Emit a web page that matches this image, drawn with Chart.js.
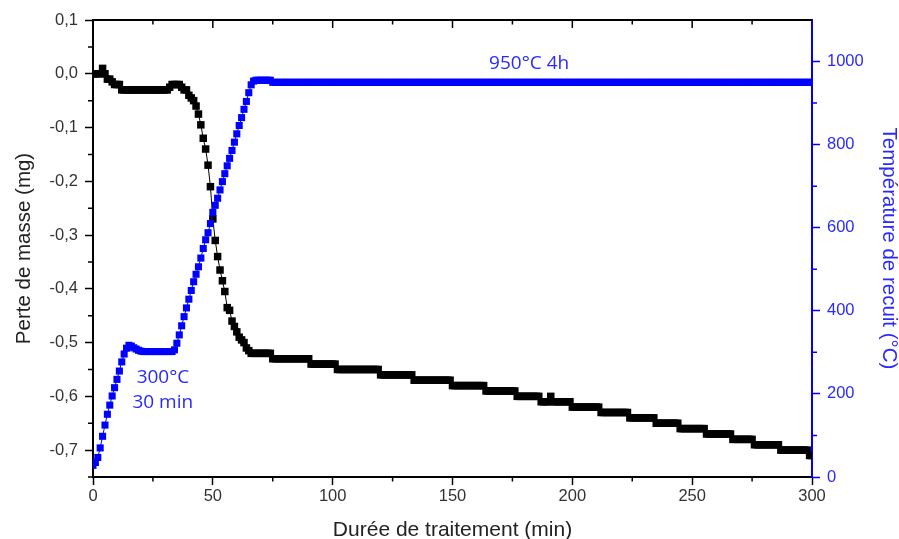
<!DOCTYPE html>
<html lang="fr">
<head>
    <meta charset="UTF-8">
    <title>Perte de masse et température de recuit</title>
    <style>
        html, body {
            margin: 0;
            padding: 0;
            background: #fff;
        }
        canvas {
            display: block;
        }
    </style>
</head>
<body>
    <canvas id="recuitChart" width="899" height="539"></canvas>
    <script src="https://cdn.jsdelivr.net/npm/chart.js@4"></script>
    <script>
        // one reading per minute, index = minute (0 .. 300)
        const massLoss = [
            0, 0, 0, 0, 0.01, 0, -0.01, -0.01, -0.015, -0.02, -0.02, -0.02, -0.03, -0.03, -0.03, -0.03, -0.03, -0.03, -0.03, -0.03,
            -0.03, -0.03, -0.03, -0.03, -0.03, -0.03, -0.03, -0.03, -0.03, -0.03, -0.03, -0.03, -0.025, -0.02, -0.02, -0.02, -0.02, -0.025, -0.03, -0.03,
            -0.04, -0.045, -0.05, -0.06, -0.075, -0.095, -0.12, -0.14, -0.17, -0.21, -0.27, -0.31, -0.34, -0.365, -0.385, -0.405, -0.435, -0.44, -0.46, -0.47,
            -0.48, -0.49, -0.495, -0.50, -0.51, -0.515, -0.52, -0.52, -0.52, -0.52, -0.52, -0.52, -0.52, -0.52, -0.52, -0.53, -0.53, -0.53, -0.53, -0.53,
            -0.53, -0.53, -0.53, -0.53, -0.53, -0.53, -0.53, -0.53, -0.53, -0.53, -0.53, -0.54, -0.54, -0.54, -0.54, -0.54, -0.54, -0.54, -0.54, -0.54,
            -0.54, -0.54, -0.55, -0.55, -0.55, -0.55, -0.55, -0.55, -0.55, -0.55, -0.55, -0.55, -0.55, -0.55, -0.55, -0.55, -0.55, -0.55, -0.55, -0.55,
            -0.56, -0.56, -0.56, -0.56, -0.56, -0.56, -0.56, -0.56, -0.56, -0.56, -0.56, -0.56, -0.56, -0.56, -0.57, -0.57, -0.57, -0.57, -0.57, -0.57,
            -0.57, -0.57, -0.57, -0.57, -0.57, -0.57, -0.57, -0.57, -0.57, -0.57, -0.58, -0.58, -0.58, -0.58, -0.58, -0.58, -0.58, -0.58, -0.58, -0.58,
            -0.58, -0.58, -0.58, -0.58, -0.59, -0.59, -0.59, -0.59, -0.59, -0.59, -0.59, -0.59, -0.59, -0.59, -0.59, -0.59, -0.59, -0.60, -0.60, -0.60,
            -0.60, -0.60, -0.60, -0.60, -0.60, -0.60, -0.60, -0.61, -0.61, -0.61, -0.61, -0.60, -0.61, -0.61, -0.61, -0.61, -0.61, -0.61, -0.61, -0.61,
            -0.62, -0.62, -0.62, -0.62, -0.62, -0.62, -0.62, -0.62, -0.62, -0.62, -0.62, -0.62, -0.63, -0.63, -0.63, -0.63, -0.63, -0.63, -0.63, -0.63,
            -0.63, -0.63, -0.63, -0.63, -0.64, -0.64, -0.64, -0.64, -0.64, -0.64, -0.64, -0.64, -0.64, -0.64, -0.64, -0.65, -0.65, -0.65, -0.65, -0.65,
            -0.65, -0.65, -0.65, -0.65, -0.65, -0.66, -0.66, -0.66, -0.66, -0.66, -0.66, -0.66, -0.66, -0.66, -0.66, -0.66, -0.67, -0.67, -0.67, -0.67,
            -0.67, -0.67, -0.67, -0.67, -0.67, -0.67, -0.67, -0.68, -0.68, -0.68, -0.68, -0.68, -0.68, -0.68, -0.68, -0.68, -0.69, -0.69, -0.69, -0.69,
            -0.69, -0.69, -0.69, -0.69, -0.69, -0.69, -0.69, -0.70, -0.70, -0.70, -0.70, -0.70, -0.70, -0.70, -0.70, -0.70, -0.70, -0.70, -0.70, -0.71,
            -0.71
        ];

        const temperature = [
            28, 35, 47, 70, 98, 125, 151, 173, 195, 215, 235, 255, 277, 296, 310, 317, 315, 311, 308, 305,
            303, 302, 302, 302, 302, 302, 302, 302, 302, 302, 302, 302, 302, 302, 306, 322, 342, 364, 386, 407,
            428, 449, 470, 488, 506, 527, 550, 571, 588, 610, 637, 654, 671, 691, 711, 730, 749, 767, 786, 806,
            826, 846, 865, 885, 904, 925, 944, 953, 955, 955, 955, 955, 955, 955, 955, 950, 950, 950, 950, 950,
            950, 950, 950, 950, 950, 950, 950, 950, 950, 950, 950, 950, 950, 950, 950, 950, 950, 950, 950, 950,
            950, 950, 950, 950, 950, 950, 950, 950, 950, 950, 950, 950, 950, 950, 950, 950, 950, 950, 950, 950,
            950, 950, 950, 950, 950, 950, 950, 950, 950, 950, 950, 950, 950, 950, 950, 950, 950, 950, 950, 950,
            950, 950, 950, 950, 950, 950, 950, 950, 950, 950, 950, 950, 950, 950, 950, 950, 950, 950, 950, 950,
            950, 950, 950, 950, 950, 950, 950, 950, 950, 950, 950, 950, 950, 950, 950, 950, 950, 950, 950, 950,
            950, 950, 950, 950, 950, 950, 950, 950, 950, 950, 950, 950, 950, 950, 950, 950, 950, 950, 950, 950,
            950, 950, 950, 950, 950, 950, 950, 950, 950, 950, 950, 950, 950, 950, 950, 950, 950, 950, 950, 950,
            950, 950, 950, 950, 950, 950, 950, 950, 950, 950, 950, 950, 950, 950, 950, 950, 950, 950, 950, 950,
            950, 950, 950, 950, 950, 950, 950, 950, 950, 950, 950, 950, 950, 950, 950, 950, 950, 950, 950, 950,
            950, 950, 950, 950, 950, 950, 950, 950, 950, 950, 950, 950, 950, 950, 950, 950, 950, 950, 950, 950,
            950, 950, 950, 950, 950, 950, 950, 950, 950, 950, 950, 950, 950, 950, 950, 950, 950, 950, 950, 950,
            950
        ];

        // minor tick values (majors come from Chart.js)
        const minorMinutes = [25, 75, 125, 175, 225, 275];
        const majorMinutes = [50, 100, 150, 200, 250];
        const minorMass = [-0.75, -0.65, -0.55, -0.45, -0.35, -0.25, -0.15, -0.05, 0.05];
        const minorTemps = [100, 300, 500, 700, 900];

        const notes = [
            { text: '950°C 4h', minute: 182, temp: 996 },
            { text: '300°C', minute: 29.2, temp: 239 },
            { text: '30 min', minute: 29.1, temp: 179 }
        ];

        const BLUE = '#0000ff';
        const BLUE_TEXT = '#2a2aff';
        const TICK_FONT = { family: "'Liberation Sans', Arial, sans-serif", size: 16.5 };
        const TITLE_FAMILY = "'Liberation Sans', Arial, sans-serif";

        // top frame, minor ticks and the two annotations
        const frameAndNotes = {
            id: 'frameAndNotes',
            afterDraw(chart) {
                const { ctx, chartArea: a, scales } = chart;
                const x = scales.x, y = scales.y, y2 = scales.y2;
                ctx.save();
                ctx.strokeStyle = '#000';
                ctx.lineWidth = 1.5;
                ctx.beginPath();
                minorMass.forEach(v => {
                    const py = y.getPixelForValue(v);
                    ctx.moveTo(a.left - 5, py);
                    ctx.lineTo(a.left, py);
                });
                minorMinutes.forEach(m => {
                    const px = x.getPixelForValue(m);
                    ctx.moveTo(px, a.bottom);
                    ctx.lineTo(px, a.bottom + 4.5);
                    ctx.moveTo(px, a.top);
                    ctx.lineTo(px, a.top + 4.5);
                });
                majorMinutes.forEach(m => {
                    const px = x.getPixelForValue(m);
                    ctx.moveTo(px, a.top);
                    ctx.lineTo(px, a.top + 8);
                });
                ctx.stroke();

                ctx.lineWidth = 2;
                ctx.beginPath();
                ctx.moveTo(a.left - 1, a.top);
                ctx.lineTo(a.right, a.top);
                ctx.stroke();

                ctx.strokeStyle = BLUE;
                ctx.lineWidth = 1.5;
                ctx.beginPath();
                minorTemps.forEach(t => {
                    const py = y2.getPixelForValue(t);
                    ctx.moveTo(a.right, py);
                    ctx.lineTo(a.right + 5, py);
                });
                ctx.stroke();

                ctx.fillStyle = BLUE_TEXT;
                ctx.font = "19px 'Open Sans', sans-serif";
                ctx.textAlign = 'center';
                ctx.textBaseline = 'middle';
                notes.forEach(n => {
                    ctx.fillText(n.text, x.getPixelForValue(n.minute), y2.getPixelForValue(n.temp));
                });
                ctx.restore();
            }
        };

        const ctx = document.getElementById('recuitChart').getContext('2d');

        new Chart(ctx, {
            type: 'line',
            data: {
                datasets: [
                    {
                        label: 'Perte de masse (mg)',
                        data: massLoss.map((v, i) => ({ x: i, y: v })),
                        yAxisID: 'y',
                        borderColor: '#000',
                        borderWidth: 1,
                        pointStyle: 'rect',
                        pointRadius: 5.3,
                        pointBackgroundColor: '#000',
                        pointBorderWidth: 0,
                        order: 1
                    },
                    {
                        label: 'Température de recuit (°C)',
                        data: temperature.map((v, i) => ({ x: i, y: v })),
                        yAxisID: 'y2',
                        borderColor: BLUE,
                        borderWidth: 1,
                        pointStyle: 'rect',
                        pointRadius: 5,
                        pointBackgroundColor: BLUE,
                        pointBorderWidth: 0,
                        order: 0
                    }
                ]
            },
            plugins: [frameAndNotes],
            options: {
                responsive: false,
                animation: false,
                layout: { padding: { top: 20, left: 0, right: 0, bottom: 0 } },
                plugins: {
                    legend: { display: false },
                    tooltip: { enabled: false }
                },
                scales: {
                    x: {
                        type: 'linear',
                        min: 0,
                        max: 300,
                        ticks: { stepSize: 50, color: '#333', font: TICK_FONT, padding: 2, maxRotation: 0 },
                        grid: { drawOnChartArea: false, tickLength: 8, tickColor: '#000', tickWidth: 1.5 },
                        border: { color: '#000', width: 2 },
                        title: {
                            display: true,
                            text: 'Durée de traitement (min)',
                            color: '#222',
                            font: { family: TITLE_FAMILY, size: 21, lineHeight: 1 },
                            padding: { top: 0, bottom: -2 }
                        },
                        afterFit(scale) { scale.height = 62; }
                    },
                    y: {
                        position: 'left',
                        min: -0.75,
                        max: 0.1,
                        ticks: {
                            stepSize: 0.1,
                            includeBounds: false,
                            color: '#333',
                            font: TICK_FONT,
                            padding: 7,
                            callback: v => {
                                const r = Math.round(v * 10) / 10;
                                return (r === 0 ? '0.0' : r.toFixed(1)).replace('.', ',');
                            }
                        },
                        grid: { drawOnChartArea: false, tickLength: 8, tickColor: '#000', tickWidth: 1.5 },
                        border: { color: '#000', width: 2 },
                        title: {
                            display: true,
                            text: 'Perte de masse (mg)',
                            color: '#222',
                            font: { family: TITLE_FAMILY, size: 20.5, lineHeight: 1 },
                            padding: { top: 14, bottom: 0 }
                        },
                        afterFit(scale) { scale.width = 93; }
                    },
                    y2: {
                        position: 'right',
                        min: 0,
                        max: 1100,
                        ticks: {
                            stepSize: 200,
                            includeBounds: false,
                            color: BLUE_TEXT,
                            font: TICK_FONT,
                            padding: 7,
                            callback: v => String(v)
                        },
                        grid: { drawOnChartArea: false, tickLength: 8, tickColor: BLUE, tickWidth: 1.5 },
                        border: { color: BLUE, width: 2 },
                        title: {
                            display: true,
                            text: 'Température de recuit (°C)',
                            color: BLUE_TEXT,
                            font: { family: TITLE_FAMILY, size: 20.5, lineHeight: 1 },
                            padding: { top: 0, bottom: 0 }
                        },
                        afterFit(scale) { scale.width = 87; }
                    }
                }
            }
        });
    </script>
</body>
</html>
